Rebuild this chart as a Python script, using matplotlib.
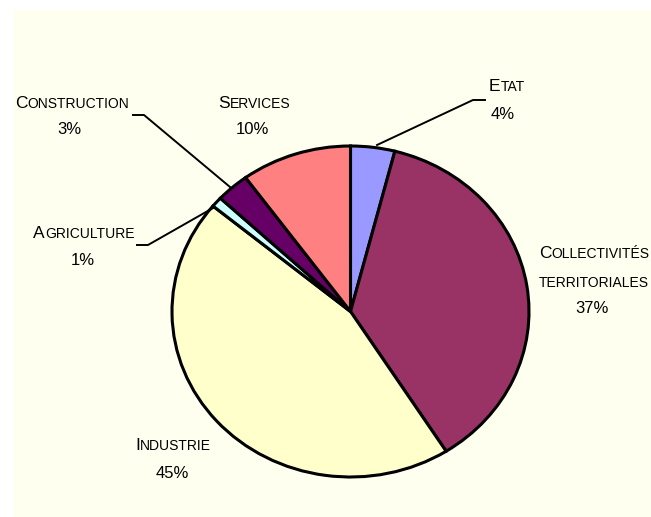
import matplotlib
matplotlib.use("Agg")
import matplotlib.pyplot as plt
from matplotlib.patches import Rectangle
from matplotlib.lines import Line2D

# repartition by sector, clockwise from 12 o'clock
secteurs = ["Etat", "Collectivités territoriales", "Industrie",
            "Agriculture", "Construction", "Services"]
parts = [4, 37, 45, 1, 3, 10]
couleurs = ["#9999FF", "#993366", "#FFFFCC", "#CCFFFF", "#660066", "#FF8080"]

W, H = 651, 517
FONT = "Liberation Sans"
fond = "#FFFFF0"

fig = plt.figure(figsize=(W / 100, H / 100), dpi=100)
fig.patch.set_facecolor("white")
fig.patches.append(Rectangle((14 / W, 0), 1, (H - 10) / H,
                             transform=fig.transFigure, color=fond, zorder=-1))


def px(x, y):
    # pixel coords (origin top-left) -> figure fraction
    return x / W, 1 - y / H


# pie is slightly squashed vertically in the original
cx, cy, rx, ry = 350.5, 311.5, 178.5, 165.5
ax = fig.add_axes([(cx - rx) / W, (H - cy - ry) / H, 2 * rx / W, 2 * ry / H])
ax.pie(parts, colors=couleurs, startangle=90, counterclock=False,
       wedgeprops=dict(edgecolor="black", linewidth=2.2))
ax.set_aspect("auto")
ax.set_xlim(-1, 1)
ax.set_ylim(-1, 1)
ax.axis("off")

renderer = fig.canvas.get_renderer()


def small_caps(xc, yb, mot, big=12.5, small=10):
    # first letter big, the rest in small uppercase, centred on xc
    first = fig.text(0, 0, mot[0].upper(), fontsize=big, family=FONT,
                     ha="left", va="baseline")
    rest = fig.text(0, 0, mot[1:].upper(), fontsize=small, family=FONT,
                    ha="left", va="baseline")
    w1 = first.get_window_extent(renderer).width
    w2 = rest.get_window_extent(renderer).width
    x0 = xc - (w1 + w2) / 2
    first.set_position(px(x0, yb))
    rest.set_position(px(x0 + w1, yb))


def all_small(xc, yb, mot, small=10):
    fig.text(*px(xc, yb), mot.upper(), fontsize=small, family=FONT,
             ha="center", va="baseline")


def pct(xc, yb, v):
    fig.text(*px(xc, yb), f"{v}%", fontsize=12, family=FONT,
             ha="center", va="baseline")


# labels
small_caps(507, 91, secteurs[0])
pct(503, 119, parts[0])

small_caps(594, 258, "Collectivités")
all_small(594, 287, "territoriales")
pct(592, 313, parts[1])

small_caps(173, 450, secteurs[2])
pct(172, 478, parts[2])

small_caps(84, 238, secteurs[3])
pct(83, 265, parts[3])

small_caps(72, 108, secteurs[4])
pct(69, 134, parts[4])

small_caps(254, 108, secteurs[5])
pct(252, 134, parts[5])

# leader lines
leaders = [
    [(377, 145), (473, 100), (485, 100)],
    [(133, 115), (144, 115), (230, 187)],
    [(137, 245), (148, 245), (213, 208)],
]
for pts in leaders:
    xs = [px(x, y)[0] for x, y in pts]
    ys = [px(x, y)[1] for x, y in pts]
    fig.add_artist(Line2D(xs, ys, color="black", linewidth=1.4,
                          transform=fig.transFigure))

fig.savefig("out.png", dpi=100, facecolor=fig.get_facecolor())
